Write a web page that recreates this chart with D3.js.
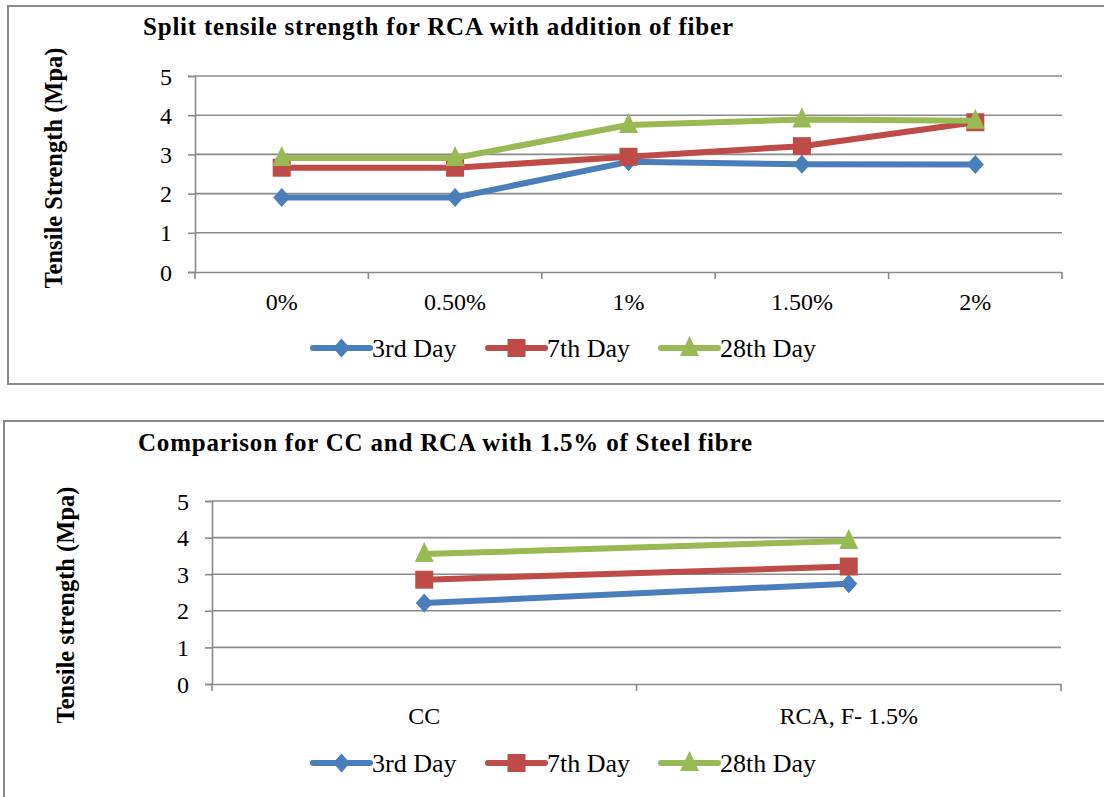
<!DOCTYPE html>
<html><head><meta charset="utf-8">
<script src="https://cdn.jsdelivr.net/npm/d3@7"></script>
<style>body{margin:0;background:#fff}svg{display:block}</style>
</head><body><svg id="c" width="1104" height="797"></svg>
<script>
const seriesNames = ["3rd Day", "7th Day", "28th Day"];
const seriesColors = ["#4A7EBB", "#BE4B48", "#98B954"];
const seriesShapes = ["diamond", "square", "triangle"];

const fiberCategories = ["0%", "0.50%", "1%", "1.50%", "2%"];
const fiber3rd  = [1.90, 1.90, 2.81, 2.75, 2.74];
const fiber7th  = [2.66, 2.66, 2.94, 3.21, 3.82];
const fiber28th = [2.91, 2.91, 3.75, 3.89, 3.86];

const compCategories = ["CC", "RCA, F- 1.5%"];
const comp3rd  = [2.21, 2.74];
const comp7th  = [2.85, 3.21];
const comp28th = [3.55, 3.91];

const yTicks = [0, 1, 2, 3, 4, 5];

const svg = d3.select("#c");
const serif = "'Liberation Serif','Times New Roman',serif";
const grey = "#8a8a8a";

function marker(g, shape, x, y, color) {
  if (shape === "diamond") {
    g.append("path").attr("d", `M${x},${y-9.5}L${x+8.5},${y}L${x},${y+9.5}L${x-8.5},${y}Z`).attr("fill", color);
  } else if (shape === "square") {
    g.append("rect").attr("x", x-9).attr("y", y-9).attr("width", 18).attr("height", 18).attr("fill", color);
  } else {
    g.append("path").attr("d", `M${x},${y-12}L${x+9.5},${y+8}L${x-9.5},${y+8}Z`).attr("fill", color);
  }
}

function chart(cfg) {
  const g = svg.append("g");
  g.append("rect").attr("x", cfg.box[0]).attr("y", cfg.box[1]).attr("width", cfg.box[2]).attr("height", cfg.box[3])
    .attr("fill", "none").attr("stroke", grey).attr("stroke-width", 2);
  g.append("text").attr("x", cfg.titleX).attr("y", cfg.titleY).attr("font-family", serif)
    .attr("font-weight", "bold").attr("font-size", 25).attr("fill", "#000")
    .attr("textLength", cfg.titleW).attr("lengthAdjust", "spacing").text(cfg.title);
  g.append("text").attr("transform", `translate(${cfg.ylabX},${cfg.ylabY}) rotate(-90)`)
    .attr("text-anchor", "middle").attr("font-family", serif).attr("font-weight", "bold")
    .attr("font-size", 24.5).text(cfg.ylab);

  const x = d3.scaleBand().domain(cfg.cats).range([cfg.x0, cfg.x1]);
  const y = d3.scaleLinear().domain([0, 5]).range([cfg.y0, cfg.y1]);

  g.append("g").selectAll("line").data(yTicks.filter(d => d > 0)).join("line")
    .attr("x1", cfg.x0).attr("x2", cfg.x1).attr("y1", d => y(d)).attr("y2", d => y(d))
    .attr("stroke", grey).attr("stroke-width", 1.6);

  const ya = g.append("g").attr("transform", `translate(${cfg.x0},0)`)
    .call(d3.axisLeft(y).tickValues(yTicks).tickSize(7).tickPadding(cfg.ypad).tickFormat(d3.format("d")));
  ya.select(".domain").attr("stroke", grey).attr("stroke-width", 1.6);
  ya.selectAll(".tick line").attr("stroke", grey).attr("stroke-width", 1.6);
  ya.selectAll("text").attr("font-family", serif).attr("font-size", 24).attr("fill", "#000").attr("dy", "0.34em");

  const xa = g.append("g").attr("transform", `translate(0,${cfg.y0})`)
    .call(d3.axisBottom(x).tickSize(0).tickPadding(cfg.xpad));
  xa.select(".domain").attr("stroke", grey).attr("stroke-width", 1.6);
  xa.selectAll("text").attr("font-family", serif).attr("font-size", 24).attr("fill", "#000");
  const bounds = cfg.cats.map(c => x(c)).concat([cfg.x1]);
  g.append("g").selectAll("line").data(bounds).join("line")
    .attr("x1", d => d).attr("x2", d => d).attr("y1", cfg.y0).attr("y2", cfg.y0 + 7)
    .attr("stroke", grey).attr("stroke-width", 1.6);

  const line = d3.line().x((d, i) => x(cfg.cats[i]) + x.bandwidth() / 2).y(d => y(d));
  cfg.series.forEach((vals, s) => {
    g.append("path").datum(vals).attr("d", line).attr("fill", "none")
      .attr("stroke", seriesColors[s]).attr("stroke-width", 6).attr("stroke-linejoin", "round");
    const mg = g.append("g");
    vals.forEach((v, i) => marker(mg, seriesShapes[s], x(cfg.cats[i]) + x.bandwidth() / 2, y(v), seriesColors[s]));
  });

  const lx = [313, 488, 661];
  seriesNames.forEach((n, s) => {
    const lg = g.append("g");
    lg.append("line").attr("x1", lx[s]).attr("x2", lx[s] + 57).attr("y1", cfg.legY).attr("y2", cfg.legY)
      .attr("stroke", seriesColors[s]).attr("stroke-width", 6).attr("stroke-linecap", "round");
    marker(lg, seriesShapes[s], lx[s] + 28.5, cfg.legY, seriesColors[s]);
    lg.append("text").attr("x", lx[s] + 59).attr("y", cfg.legY + 8.5).attr("font-family", serif)
      .attr("font-size", 26).text(n);
  });
}

chart({
  box: [8, 6, 1110, 378],
  title: "Split tensile strength for RCA with addition of fiber", titleX: 143, titleY: 35, titleW: 590,
  ylab: "Tensile Strength (Mpa)", ylabX: 62, ylabY: 168,
  cats: fiberCategories, series: [fiber3rd, fiber7th, fiber28th],
  x0: 195, x1: 1062, y0: 272, y1: 76, xpad: 21, ypad: 16, legY: 348
});

chart({
  box: [4, 421, 1110, 400],
  title: "Comparison for CC and RCA with 1.5% of Steel fibre", titleX: 138, titleY: 451, titleW: 614,
  ylab: "Tensile strength (Mpa)", ylabX: 74, ylabY: 605,
  cats: compCategories, series: [comp3rd, comp7th, comp28th],
  x0: 212, x1: 1061, y0: 684, y1: 501, xpad: 23, ypad: 16, legY: 763
});
</script></body></html>
